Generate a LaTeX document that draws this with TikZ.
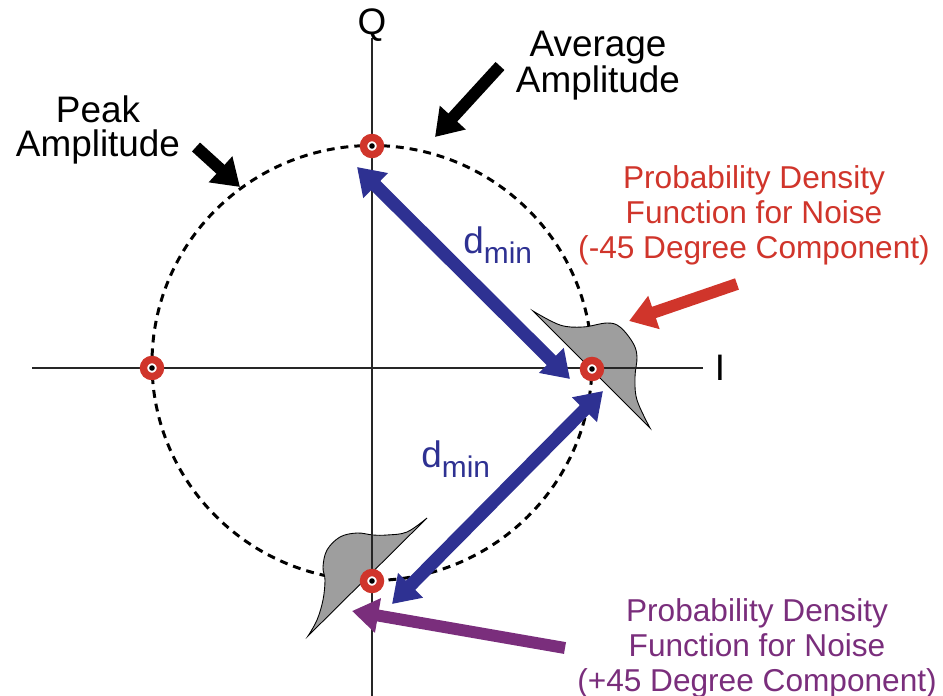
\documentclass[tikz,border=0pt]{standalone}
\usepackage{fontspec}
\setmainfont{Liberation Sans}
\usetikzlibrary{arrows.meta, positioning}

\definecolor{ptred}{RGB}{208,53,43}
\definecolor{dblue}{RGB}{46,49,146}
\definecolor{pdfpurple}{RGB}{122,46,124}
\definecolor{pdfgray}{RGB}{158,158,158}

\begin{document}
\begin{tikzpicture}[
    x=0.02cm, y=-0.02cm,
    axis/.style={
        line width=1.7pt,
        black!85
    },
    ring/.style={
        circle,
        draw=ptred,
        fill=white,
        line width=4.2pt,
        inner sep=0pt,
        minimum size=0.34cm
    },
    pdfshape/.style={
        fill=pdfgray,
        draw=black,
        line width=0.5pt
    },
    bigtext/.style={
        font=\fontsize{21}{19.4}\selectfont,
        align=center,
        inner sep=0pt
    },
    smalltext/.style={
        font=\fontsize{18}{19.9}\selectfont,
        align=center,
        inner sep=0pt
    },
    pointer/.style={
        -{Triangle[length=15pt, width=19pt]},
        line width=6.8pt
    },
    dminarrow/.style={
        {Triangle[length=15pt, width=19pt]}-{Triangle[length=15pt, width=19pt]},
        line width=7.4pt,
        dblue
    },
    dlabel/.style={
        font=\fontsize{21}{21}\selectfont,
        text=dblue,
        inner sep=0pt,
        anchor=base west
    }
]

\useasboundingbox (0,0) rectangle (943,696);

% --- CONSTELLATION CIRCLE -------------------------------------

\draw[line width=1.7pt, dash pattern=on 4.5pt off 3.4pt]
    (372,363) circle[x radius=220, y radius=217.5];

% --- NOISE DENSITY SHAPES -------------------------------------

\draw[pdfshape] plot[smooth, tension=0.6] coordinates {
    (533,311) (560,325) (583,327) (607,323) (620,327) (633,343)
    (637,357) (635,377) (637,400) (650,428)} -- cycle;

\draw[pdfshape] plot[smooth, tension=0.6] coordinates {
    (427,518) (407,532) (387,535) (373,535) (357,533) (340,537)
    (327,550) (323,567) (325,580) (323,600) (317,620) (308,636)} -- cycle;

% --- AXES -----------------------------------------------------

\coordinate (qtop) at (372,38);
\coordinate (qbot) at (372,696);
\coordinate (ileft) at (32,368);
\coordinate (iright) at (703,368);

\draw[axis] (qtop) -- (qbot);
\draw[axis] (ileft) -- (iright);

\node[bigtext, anchor=base] (qlabel) at (372,35) {Q};
\node[bigtext, anchor=base] (ilabel) at (720,380) {I};

% --- SYMBOL POINTS --------------------------------------------

\node[ring] (ptQ) at (372,146) {};
\node[ring] (ptI) at (592,369) {};
\node[ring] (ptQn) at (372,581) {};
\node[ring] (ptIn) at (152,368) {};

\foreach \p in {ptQ, ptI, ptQn, ptIn}
    \fill (\p.center) circle (2.8);

% --- DISTANCE ARROWS ------------------------------------------

\coordinate (da1) at (357,167);
\coordinate (db1) at (570,379);
\coordinate (da2) at (603,391);
\coordinate (db2) at (392,604);

\draw[dminarrow] (da1) -- (db1);
\draw[dminarrow] (da2) -- (db2);

\node[dlabel] (dmin1) at (463,253)
    {d\raisebox{-5.8pt}{\fontsize{17}{17}\selectfont min}};
\node[dlabel] (dmin2) at (421,467)
    {d\raisebox{-5.8pt}{\fontsize{17}{17}\selectfont min}};

% --- LABELS ---------------------------------------------------

\node[bigtext, anchor=north] (peak) at (98,95) {Peak\\Amplitude};
\node[bigtext, anchor=north] (avg) at (598,31) {Average\\Amplitude};

\node[smalltext, anchor=north, text=ptred] (pdfm) at (754,165)
    {Probability Density\\Function for Noise\\(-45 Degree Component)};
\node[smalltext, anchor=north, text=pdfpurple] (pdfp) at (757,598)
    {Probability Density\\Function for Noise\\(+45 Degree Component)};

% --- POINTER ARROWS -------------------------------------------

\coordinate (peaktail) at (196,147);
\coordinate (peaktip) at (240,187);
\coordinate (avgtail) at (500,66);
\coordinate (avgtip) at (435,137);
\coordinate (redtail) at (737,284);
\coordinate (redtip) at (629,321);
\coordinate (purtail) at (565,648);
\coordinate (purtip) at (352,611);

\draw[pointer, black] (peaktail) -- (peaktip);
\draw[pointer, black] (avgtail) -- (avgtip);
\draw[pointer, ptred] (redtail) -- (redtip);
\draw[pointer, pdfpurple] (purtail) -- (purtip);

\end{tikzpicture}
\end{document}
